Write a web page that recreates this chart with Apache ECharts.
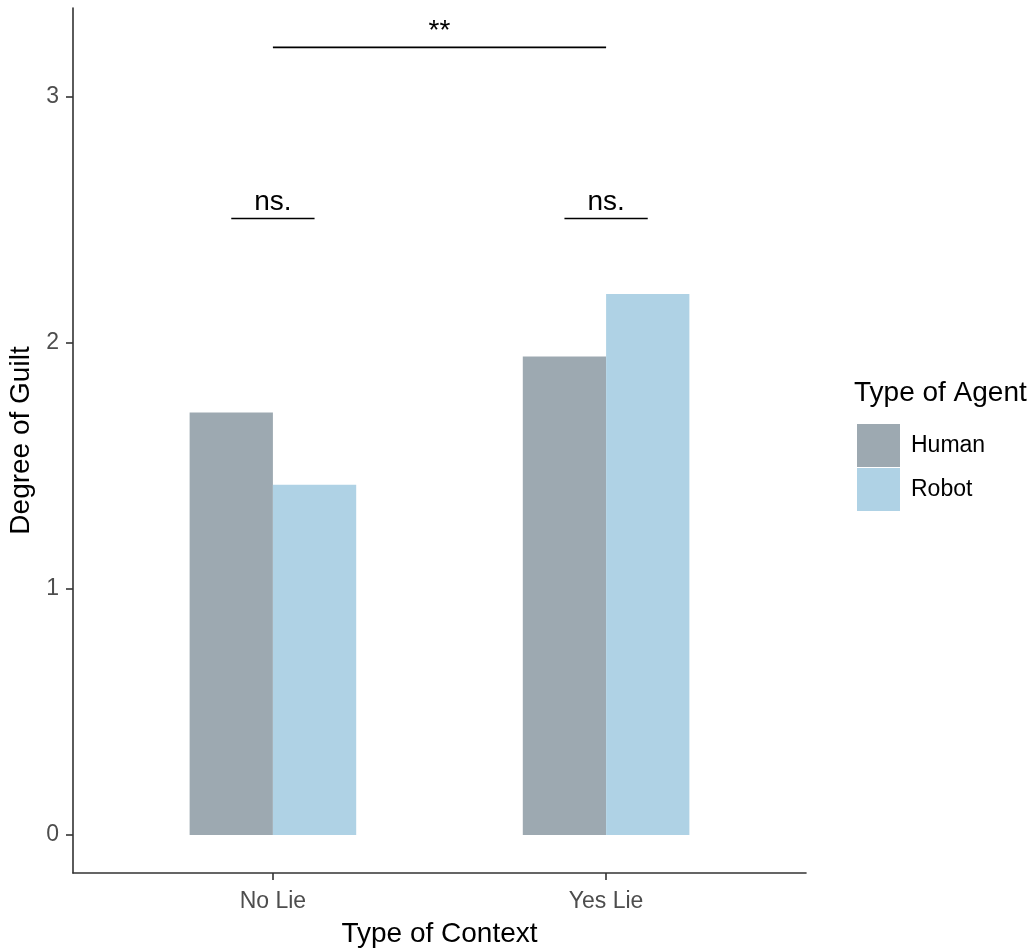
<!DOCTYPE html>
<html>
<head>
<meta charset="utf-8">
<script src="https://cdn.jsdelivr.net/npm/echarts@6/dist/echarts.min.js"></script>
<style>
  html, body { margin: 0; padding: 0; background: #fff; }
  #chart { width: 1032px; height: 948px; }
</style>
</head>
<body>
<div id="chart"></div>
<script>
// Guilt ratings by context and agent
const contexts = ['No Lie', 'Yes Lie'];
const agents = ['Human', 'Robot'];
const humanGuilt = [1.717, 1.944];
const robotGuilt = [1.423, 2.198];
const yTicks = [0, 1, 2, 3];

// Significance brackets: [from, to] in category positions, height, label
const sigFrom = [1, 0.875, 1.875];
const sigTo = [2, 1.125, 2.125];
const sigHeight = [3.2, 2.505, 2.505];
const sigLabels = ['**', 'ns.', 'ns.'];

const FONT = 'Liberation Sans, Arial, sans-serif';
const agentColors = { Human: '#9da9b1', Robot: '#afd2e5' };
const BAR_W = 0.25;

function barSeries(name, values, side) {
  return {
    name: name,
    type: 'custom',
    itemStyle: { color: agentColors[name] },
    data: values.map((v, i) => [i + 1, v]),
    renderItem: function (params, api) {
      const x = api.value(0);
      const y = api.value(1);
      const x0 = side < 0 ? x - BAR_W : x;
      const topLeft = api.coord([x0, y]);
      const bottomRight = api.coord([x0 + BAR_W, 0]);
      return {
        type: 'rect',
        shape: {
          x: topLeft[0], y: topLeft[1],
          width: bottomRight[0] - topLeft[0],
          height: bottomRight[1] - topLeft[1]
        },
        style: { fill: agentColors[name] }
      };
    }
  };
}

const chart = echarts.init(document.getElementById('chart'), null, { renderer: 'canvas' });

chart.setOption({
  backgroundColor: '#ffffff',
  animation: false,
  textStyle: { fontFamily: FONT },
  title: {
    text: 'Type of Agent',
    left: 849, top: 374,
    textStyle: { fontFamily: FONT, fontSize: 28, fontWeight: 'normal', color: '#000' }
  },
  legend: {
    orient: 'vertical',
    left: 852, top: 419,
    itemWidth: 43, itemHeight: 43,
    itemGap: 1,
    icon: 'rect',
    data: agents,
    textStyle: { fontFamily: FONT, fontSize: 23, color: '#000', padding: [0, 0, 0, 6] }
  },
  grid: { left: 73, right: 226, top: 8, bottom: 75, containLabel: false, outerBoundsMode: 'none' },
  xAxis: {
    type: 'value',
    min: 0.4, max: 2.6,
    splitLine: { show: false },
    axisLine: { onZero: false, lineStyle: { color: '#333', width: 1.6 } },
    axisTick: { customValues: [1, 2], length: 7, lineStyle: { color: '#333', width: 1.6 } },
    axisLabel: {
      customValues: [1, 2],
      formatter: v => contexts[Math.round(v) - 1],
      fontSize: 23, color: '#4d4d4d', margin: 17, fontFamily: FONT
    },
    name: 'Type of Context',
    nameLocation: 'middle',
    nameGap: 47,
    nameTextStyle: { fontSize: 28, color: '#000', fontFamily: FONT }
  },
  yAxis: {
    type: 'value',
    min: -0.154, max: 3.36,
    splitLine: { show: false },
    axisLine: { show: true, onZero: false, lineStyle: { color: '#333', width: 1.6 } },
    axisTick: { show: true, customValues: yTicks, length: 7, lineStyle: { color: '#333', width: 1.6 } },
    axisLabel: {
      customValues: yTicks,
      fontSize: 23, color: '#4d4d4d', margin: 14, fontFamily: FONT
    },
    name: 'Degree of Guilt',
    nameLocation: 'middle',
    nameGap: 37,
    nameTextStyle: { fontSize: 28, color: '#000', fontFamily: FONT }
  },
  series: [
    barSeries('Human', humanGuilt, -1),
    barSeries('Robot', robotGuilt, 1),
    {
      name: 'significance',
      type: 'custom',
      silent: true,
      data: sigLabels.map((lab, i) => [sigFrom[i], sigTo[i], sigHeight[i], i]),
      renderItem: function (params, api) {
        const i = api.value(3);
        const a = api.coord([api.value(0), api.value(2)]);
        const b = api.coord([api.value(1), api.value(2)]);
        return {
          type: 'group',
          children: [
            {
              type: 'line',
              shape: { x1: a[0], y1: a[1], x2: b[0], y2: b[1] },
              style: { stroke: '#000', lineWidth: 1.6 }
            },
            {
              type: 'text',
              x: (a[0] + b[0]) / 2, y: a[1] - 2,
              style: {
                text: sigLabels[i],
                fontFamily: FONT, fontSize: 28, fill: '#000',
                align: 'center', verticalAlign: 'bottom'
              }
            }
          ]
        };
      }
    }
  ]
});
</script>
</body>
</html>
